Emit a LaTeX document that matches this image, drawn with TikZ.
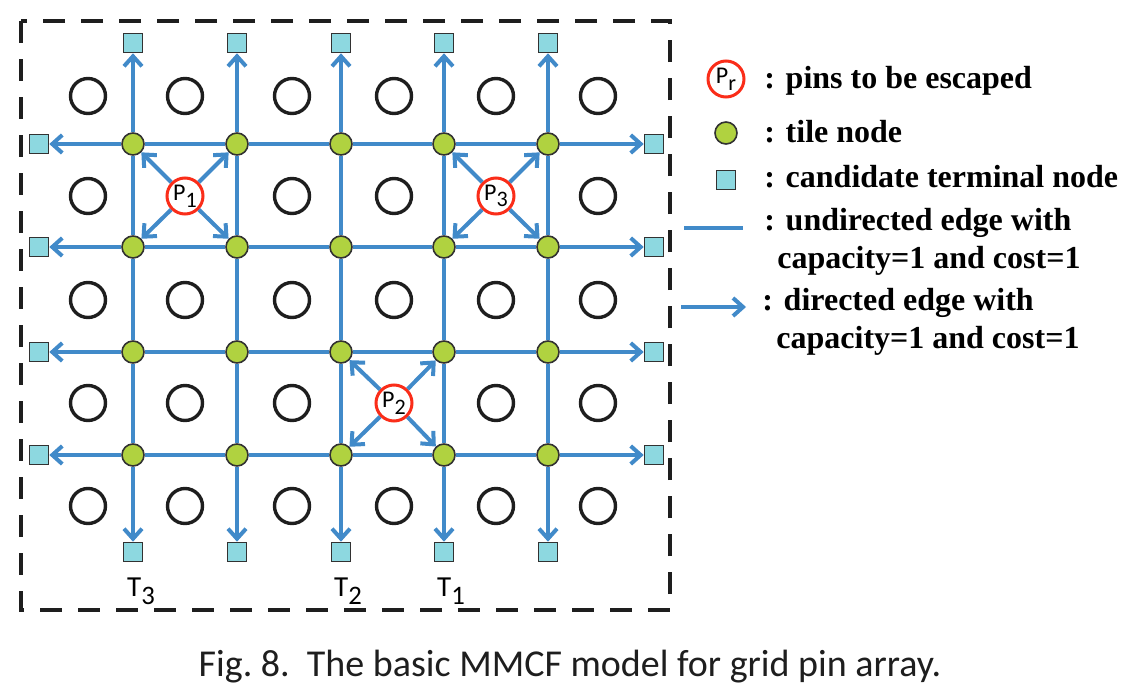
\documentclass[tikz,border=0pt]{standalone}
\usepackage{fontspec}
\setmainfont{Liberation Serif}
\newfontfamily\lblfont{Carlito}
\usetikzlibrary{arrows.meta,positioning}
\newcommand\lowidx[1]{\raisebox{-0.28em}{\scalebox{0.92}{#1}}}
\definecolor{flow_blue}{RGB}{65,138,201}
\definecolor{tile_green}{RGB}{176,210,64}
\definecolor{term_cyan}{RGB}{141,216,224}
\definecolor{pin_red}{RGB}{250,45,25}
\definecolor{pin_black}{RGB}{30,30,30}
\definecolor{rim_gray}{RGB}{50,50,50}

\begin{document}
\begin{tikzpicture}[x=0.5pt,y=-0.5pt,>={Straight Barb[length=5pt,width=9pt]}]
    \tikzstyle{padpin}=[draw=pin_black,circle,line width=1.7pt,minimum size=17.5pt,inner sep=0pt]
    \tikzstyle{escpin}=[padpin,draw=pin_red,fill=white,line width=1.5pt,minimum size=18pt,text=black,font=\lblfont\fontsize{12}{12}\selectfont]
    \tikzstyle{tilenode}=[draw=rim_gray,circle,fill=tile_green,line width=0.8pt,minimum size=11pt,inner sep=0pt]
    \tikzstyle{termnode}=[draw=rim_gray,rectangle,fill=term_cyan,line width=0.8pt,minimum size=9.5pt,inner sep=0pt]
    \tikzstyle{flowedge}=[draw=flow_blue,line width=2pt]
    \tikzstyle{tlabel}=[anchor=base,inner sep=0pt,text=black,font=\lblfont\fontsize{14.5}{14.5}\selectfont]
    \tikzstyle{legtext}=[anchor=base west,inner sep=0pt,text=black,font=\bfseries\fontsize{16}{16}\selectfont]

    \useasboundingbox (0,0) rectangle (1130,696);
    \draw[pin_black,line width=2pt,dash pattern=on 11pt off 8pt] (21,21) rectangle (670,610);

    % pin array, the escaped pins are drawn further down
    \foreach \x [count=\i] in {88,185,292,394,496,598}
      \foreach \y [count=\j] in {96,196,300,403,506}
        {\ifnum\i\j=22 \else\ifnum\i\j=52 \else\ifnum\i\j=44 \else
           \node[padpin] (p\i\j) at (\x,\y) {};
         \fi\fi\fi}

    % tile nodes and candidate terminals
    \foreach \x [count=\i] in {133,237,341,444,548}
      {\node[termnode] (top\i) at (\x,43) {};
       \node[termnode] (bot\i) at (\x,552) {};
       \foreach \y [count=\j] in {144,247,352,455}
         \node[tilenode] (t\i\j) at (\x,\y) {};}
    \foreach \y [count=\j] in {144,247,352,455}
      {\node[termnode] (lft\j) at (39,\y) {};
       \node[termnode] (rgt\j) at (654,\y) {};}

    \node[escpin] (P1) at (185,196) {P\lowidx{1}};
    \node[escpin] (P2) at (394,403) {P\lowidx{2}};
    \node[escpin] (P3) at (496,196) {P\lowidx{3}};

    % edges
    \foreach \i in {1,...,5}
      {\draw[flowedge] (t\i1) -- (t\i2) -- (t\i3) -- (t\i4);
       \draw[flowedge,->] (t\i1) -- (top\i);
       \draw[flowedge,->] (t\i4) -- (bot\i);}
    \foreach \j in {1,...,4}
      {\draw[flowedge] (t1\j) -- (t2\j) -- (t3\j) -- (t4\j) -- (t5\j);
       \draw[flowedge,->] (t1\j) -- (lft\j);
       \draw[flowedge,->] (t5\j) -- (rgt\j);}
    \path[flowedge,->]
     (P1) edge (t11) edge (t21) edge (t12) edge (t22)
     (P3) edge (t41) edge (t51) edge (t42) edge (t52)
     (P2) edge (t33) edge (t43) edge (t34) edge (t44);

    \node[tlabel] (T3) at (141,596) {T\lowidx{3}};
    \node[tlabel] (T2) at (348,596) {T\lowidx{2}};
    \node[tlabel] (T1) at (451,596) {T\lowidx{1}};

    % legend
    \node[escpin] (lgP) at (726,79) {P\lowidx{r}};
    \node[tilenode] (lgT) at (726,133) {};
    \node[termnode] (lgS) at (726,180) {};
    \coordinate (lgU1) at (684,228);
    \coordinate (lgU2) at (743,228);
    \coordinate (lgD1) at (681,307);
    \coordinate (lgD2) at (746,307);
    \draw[flowedge] (lgU1) -- (lgU2);
    \draw[flowedge,->] (lgD1) -- (lgD2);
    \node[legtext] (lgPtxt) at (764,88) {: pins to be escaped};
    \node[legtext] (lgTtxt) at (764,142) {: tile node};
    \node[legtext] (lgStxt) at (764,187) {: candidate terminal node};
    \node[legtext] (lgUtxt) at (764,230) {: undirected edge with};
    \node[legtext] (lgUtxt2) at (777,268) {capacity=1 and cost=1};
    \node[legtext] (lgDtxt) at (762,310) {: directed edge with};
    \node[legtext] (lgDtxt2) at (776,348) {capacity=1 and cost=1};

    \node[anchor=base,inner sep=0pt,text=pin_black,font=\lblfont\fontsize{19}{19}\selectfont] (cap) at (570,676) {Fig.\ 8.\ \ The basic MMCF model for grid pin array.};
\end{tikzpicture}
\end{document}
